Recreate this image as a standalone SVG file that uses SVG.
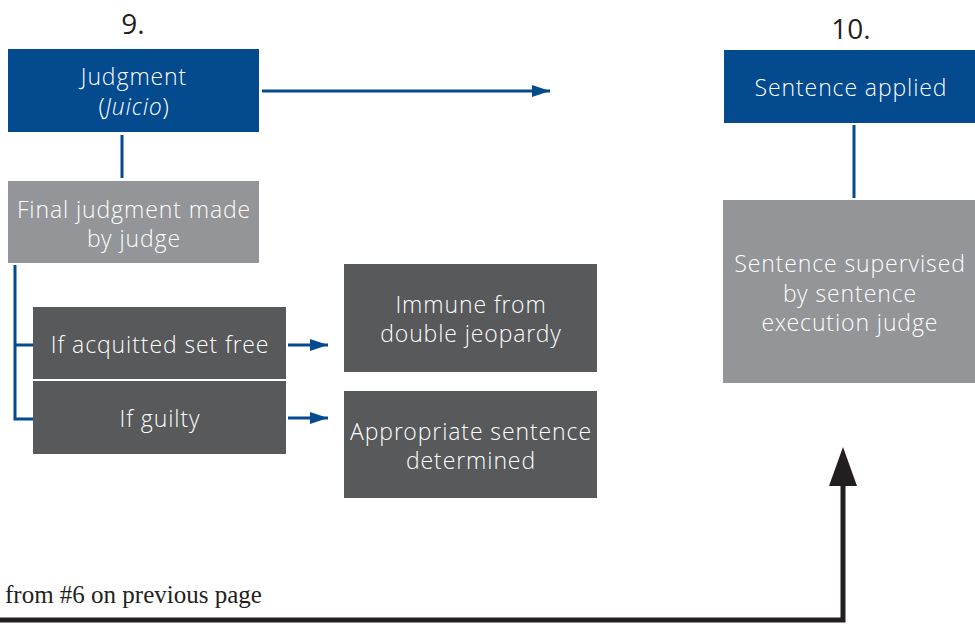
<svg xmlns="http://www.w3.org/2000/svg" width="975" height="626" viewBox="0 0 975 626">
<defs>
<style>
.t{font-family:"Open Sans Light","Open Sans","Liberation Sans",sans-serif;font-weight:300;font-size:23px;letter-spacing:0.9px;fill:#fff;text-anchor:middle;}
.num{font-family:"Open Sans","Liberation Sans",sans-serif;font-size:28px;fill:#231f20;text-anchor:middle;}
.blue{fill:#034a8f;}
.grey{fill:#939598;}
.dark{fill:#58595b;}
.bl{stroke:#034a8f;stroke-width:3;fill:none;}
</style>
<marker id="ab" viewBox="0 0 18 12" refX="18" refY="6" markerWidth="18" markerHeight="12" markerUnits="userSpaceOnUse" orient="auto"><path d="M0,0L18,6L0,12z" fill="#034a8f"/></marker>
</defs>
<text class="num" x="133" y="34">9.</text>
<text class="num" x="851" y="39">10.</text>
<g id="judgment"><rect class="blue" x="8" y="49" width="251" height="83"/><text class="t" x="134" y="85">Judgment</text><text class="t" x="134" y="115">(<tspan font-style="italic">Juicio</tspan>)</text></g>
<g id="final"><rect class="grey" x="8" y="181" width="251" height="82"/><text class="t" x="134" y="218">Final judgment made</text><text class="t" x="134" y="247">by judge</text></g>
<g id="acquitted"><rect class="dark" x="33" y="307" width="253" height="72"/><text class="t" x="160" y="353">If acquitted set free</text></g>
<g id="guilty"><rect class="dark" x="33" y="381" width="253" height="73"/><text class="t" x="160" y="427">If guilty</text></g>
<g id="immune"><rect class="dark" x="344" y="264" width="253" height="108"/><text class="t" x="471" y="313">Immune from</text><text class="t" x="471" y="342">double jeopardy</text></g>
<g id="appropriate"><rect class="dark" x="344" y="391" width="253" height="107"/><text class="t" x="471" y="440">Appropriate sentence</text><text class="t" x="471" y="469">determined</text></g>
<g id="applied"><rect class="blue" x="724" y="50" width="251" height="73"/><text class="t" x="851" y="96">Sentence applied</text></g>
<g id="supervised"><rect class="grey" x="723" y="200" width="252" height="183"/><text class="t" x="850" y="272">Sentence supervised</text><text class="t" x="850" y="302">by sentence</text><text class="t" x="850" y="331">execution judge</text></g>
<text x="5" y="603" font-family="'Liberation Serif',serif" font-size="25" fill="#231f20">from #6 on previous page</text>
<g id="connectors">
<line class="bl" x1="262" y1="91" x2="550" y2="91" marker-end="url(#ab)"/>
<line class="bl" x1="122" y1="135" x2="122" y2="178"/>
<line class="bl" x1="854" y1="125" x2="854" y2="198"/>
<polyline class="bl" points="15,265 15,419 33,419"/>
<line class="bl" x1="15" y1="345" x2="33" y2="345"/>
<line class="bl" x1="288" y1="345" x2="328" y2="345" marker-end="url(#ab)"/>
<line class="bl" x1="288" y1="418" x2="328" y2="418" marker-end="url(#ab)"/>
<polyline points="0,620 843,620 843,480" fill="none" stroke="#231f20" stroke-width="5"/>
<path d="M843,447L857,486L829,486z" fill="#231f20"/>
</g>
</svg>
